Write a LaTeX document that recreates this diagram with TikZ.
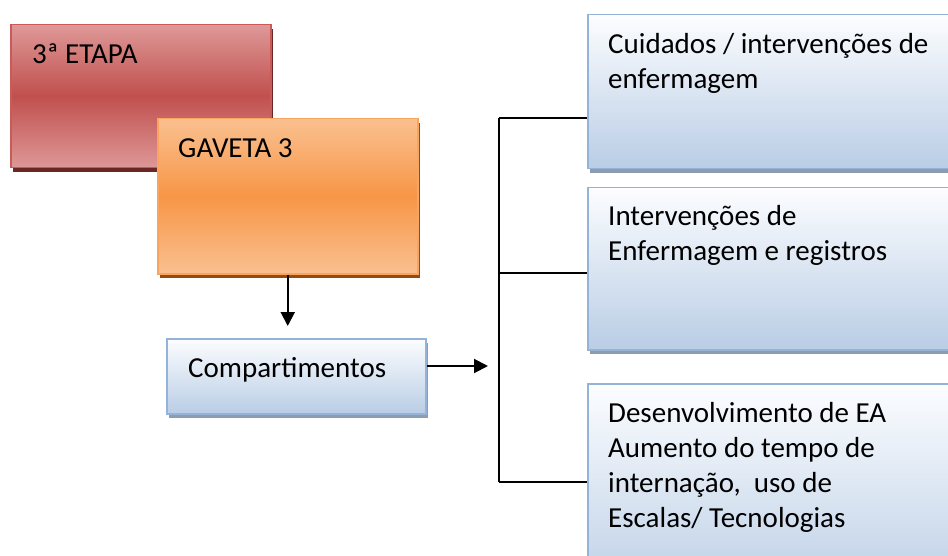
\documentclass[tikz,border=0pt]{standalone}
\usepackage{fontspec}
\setmainfont{Carlito}
\usetikzlibrary{arrows.meta,shadows}
\definecolor{redmid}{RGB}{192,80,77}
\definecolor{redlight}{RGB}{222,152,152}
\definecolor{redborder}{RGB}{200,90,88}
\definecolor{redshadow}{RGB}{105,40,38}
\definecolor{ormid}{RGB}{247,150,70}
\definecolor{orlight}{RGB}{250,192,144}
\definecolor{orborder}{RGB}{250,165,95}
\definecolor{orshadow}{RGB}{152,75,10}
\definecolor{bltop}{RGB}{252,253,255}
\definecolor{blbottom}{RGB}{185,205,229}
\definecolor{blborder}{RGB}{149,179,215}
\definecolor{blshadow}{RGB}{140,156,178}
\tikzset{
  boxbase/.style={rectangle, anchor=north west, inner sep=0pt, line width=1.5pt},
  redbox/.style={boxbase, draw=redborder, top color=redlight, bottom color=redlight, middle color=redmid,
    drop shadow={shadow xshift=2pt, shadow yshift=-4pt, fill=redshadow, opacity=1}},
  orbox/.style={boxbase, draw=orborder, top color=orlight, bottom color=orlight, middle color=ormid,
    drop shadow={shadow xshift=2pt, shadow yshift=-4pt, fill=orshadow, opacity=1}},
  blbox/.style={boxbase, draw=blborder, top color=bltop, bottom color=blbottom,
    drop shadow={shadow xshift=2pt, shadow yshift=-4pt, fill=blshadow, opacity=1}},
  lbl/.style={anchor=base west, inner sep=0pt, font=\fontsize{29pt}{35pt}\selectfont},
  conn/.style={line width=1.8pt, black},
  arr/.style={line width=2pt, black, -{Triangle[length=14pt,width=14pt]}},
}
\begin{document}
\begin{tikzpicture}[x=1pt,y=-1pt]
\useasboundingbox (0,0) rectangle (948,556);
\clip (0,0) rectangle (948,556);
\fill[white] (0,0) rectangle (948,556);
% left boxes
\node[redbox, minimum width=260pt, minimum height=143pt] (etapa) at (10,24) {};
\node[orbox, minimum width=260pt, minimum height=155pt] (gav) at (157,118) {};
\node[blbox, minimum width=259pt, minimum height=75pt] (comp) at (166,338) {};
% right boxes
\node[blbox, minimum width=380pt, minimum height=154pt] (b1) at (587,14) {};
\node[blbox, minimum width=380pt, minimum height=162pt] (b2) at (587,187) {};
\node[blbox, minimum width=380pt, minimum height=220pt] (b3) at (587,383) {};
% labels
\node[lbl] (tetapa) at (32,64) {3ª ETAPA};
\node[lbl] (tgav) at (178,158) {GAVETA 3};
\node[lbl] (tcomp) at (188,377) {Compartimentos};
\node[lbl] (t1) at (608,54) {\parbox[t]{340pt}{\raggedright Cuidados / intervenções de\\enfermagem}};
\node[lbl] (t2) at (608,226) {\parbox[t]{340pt}{\raggedright Intervenções de\\Enfermagem e registros}};
\node[lbl] (t3) at (608,422) {\parbox[t]{340pt}{\raggedright Desenvolvimento de EA\\Aumento do tempo de\\internação,~ uso de\\Escalas/ Tecnologias}};
% connectors
\coordinate (bt) at (499,118);
\coordinate (bb) at (499,482);
\coordinate (bm) at (499,273);
\coordinate (arrend) at (488,366);
\draw[arr, shorten >=12pt] (gav.south) -- (gav.south |- comp.north);
\draw[arr] (comp.east |- arrend) -- (arrend);
\draw[conn] (bt) -- (bb);
\draw[conn] (bt) -- (bt -| b1.west);
\draw[conn] (bm) -- (bm -| b2.west);
\draw[conn] (bb) -- (bb -| b3.west);
\end{tikzpicture}
\end{document}
